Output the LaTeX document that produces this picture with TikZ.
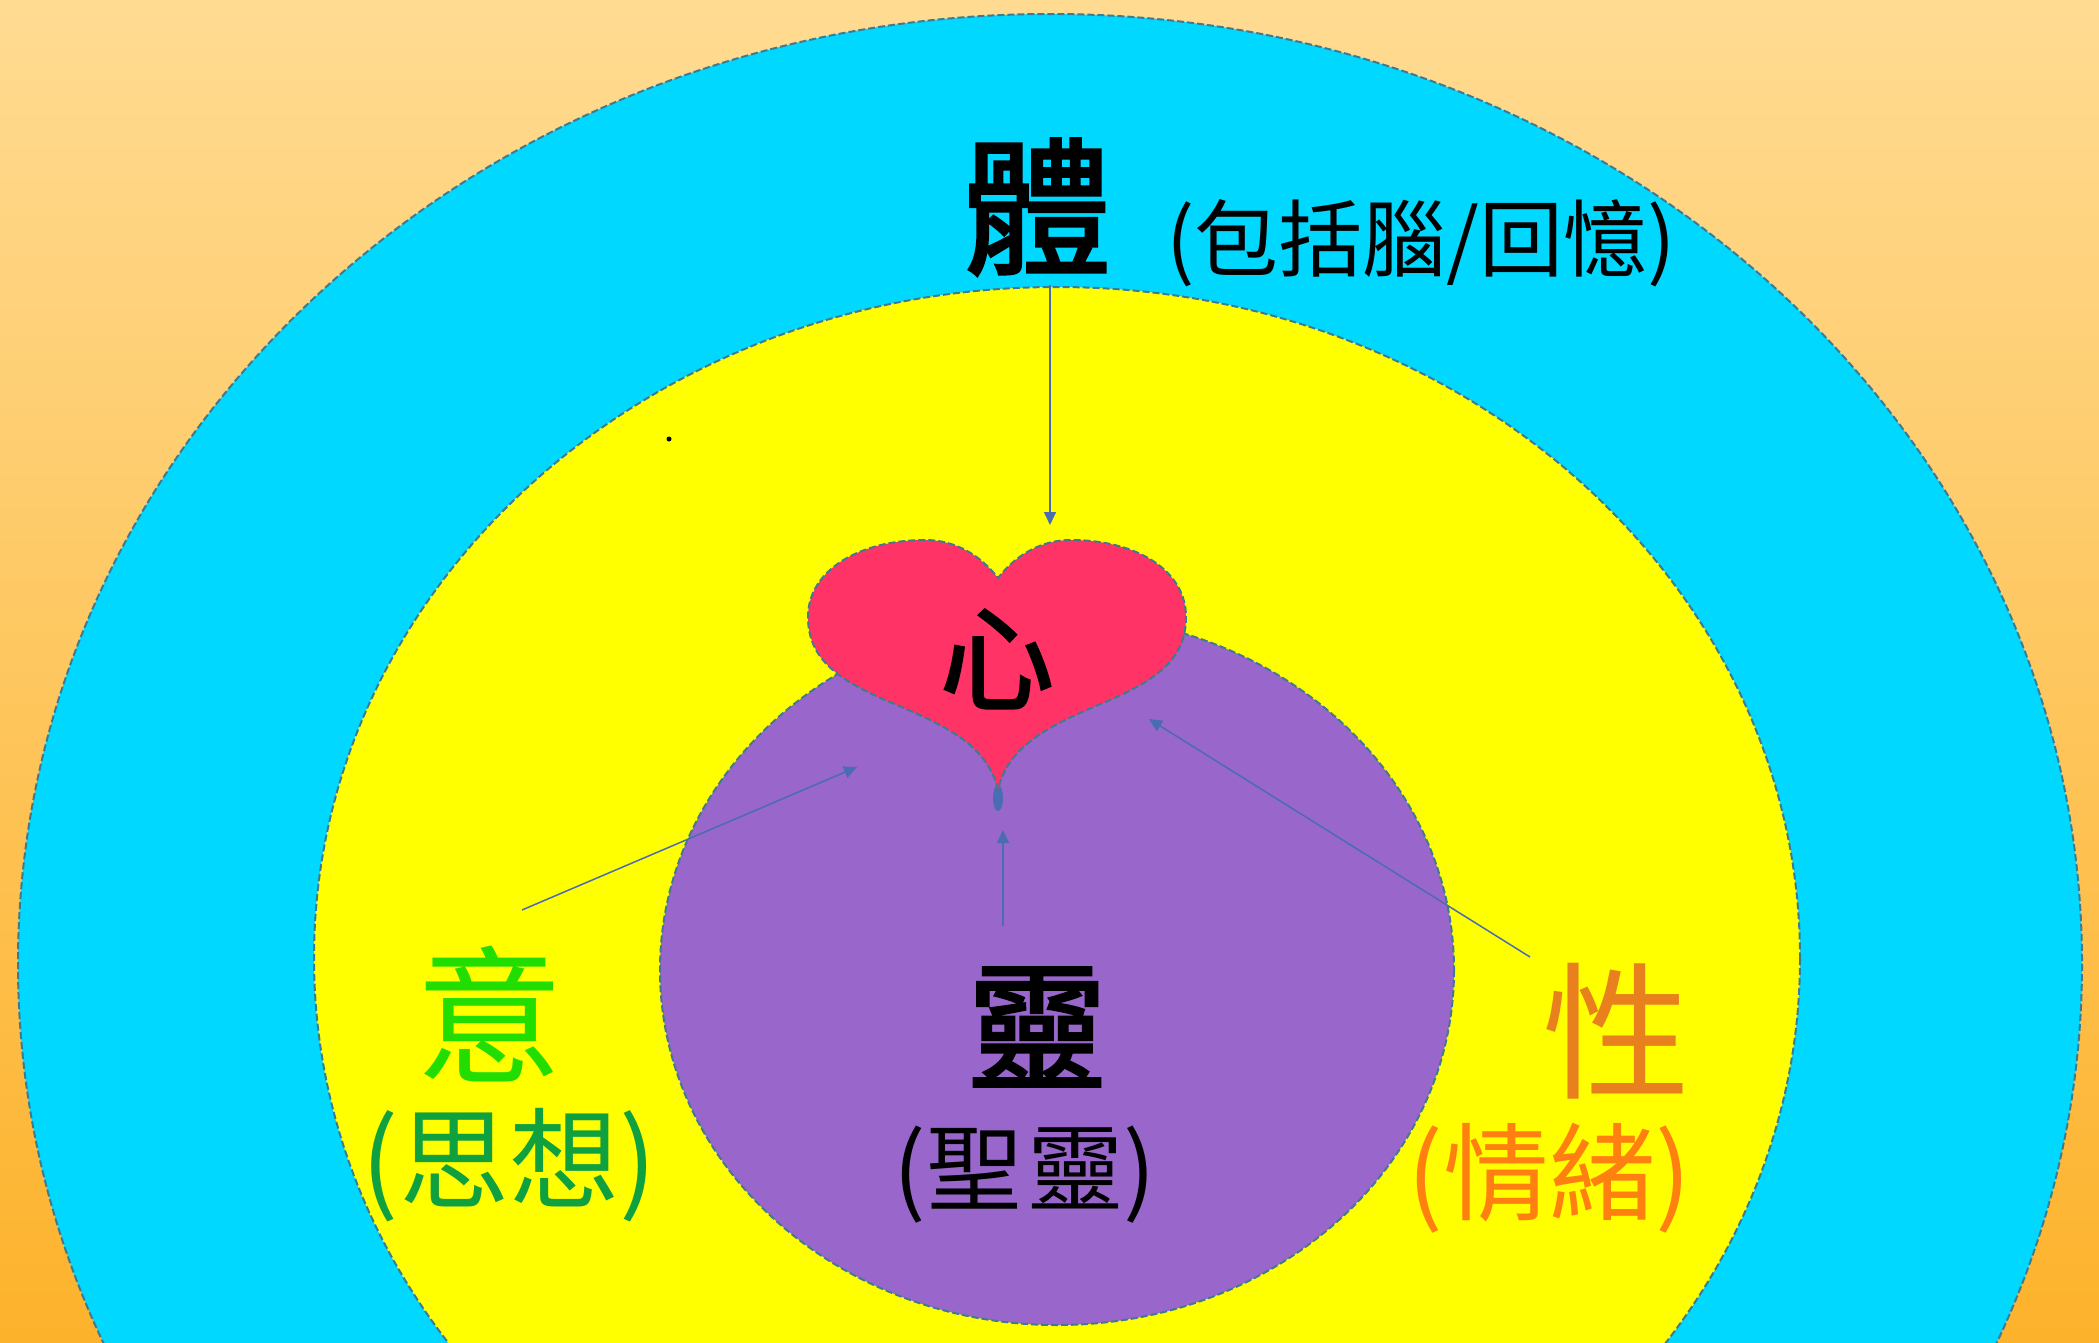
\documentclass[tikz,border=0pt]{standalone}
\usepackage{fontspec}
\usetikzlibrary{arrows.meta}
\newfontfamily\cjk{Noto Sans CJK TC}
\newfontfamily\cjkheavy[FakeBold=2.2]{Noto Sans CJK TC}
\definecolor{bgtop}{HTML}{FFDB92}
\definecolor{bgbot}{HTML}{FDB22B}
\definecolor{ringblue}{HTML}{00D8FF}
\definecolor{ringyellow}{HTML}{FFFF00}
\definecolor{ringpurple}{HTML}{9966CC}
\definecolor{heartred}{HTML}{FF3366}
\definecolor{edgecol}{HTML}{3F7A90}
\definecolor{arrowcol}{HTML}{4A6CB0}
\definecolor{yigreen}{HTML}{22DD00}
\definecolor{sigreen}{HTML}{0FA040}
\definecolor{xingor}{HTML}{E8801E}
\definecolor{qingor}{HTML}{FF8010}
\newcommand{\fs}[1]{\fontsize{#1}{#1}\selectfont}
\tikzset{
  x=1pt,y=-1pt,
  ring/.style={draw=edgecol,line width=2pt,dash pattern=on 7pt off 3pt},
  lab/.style={inner sep=0pt,outer sep=0pt,align=center},
  conn/.style={draw=arrowcol,line width=1.5pt,-{Triangle[length=13pt,width=12pt]}}
}
\begin{document}
\begin{tikzpicture}
\useasboundingbox (0,0) rectangle (2099,1342);
\shade[top color=bgtop,bottom color=bgbot] (0,0) rectangle (2099,1342);
\begin{scope}
\clip (0,0) rectangle (2099,1342);
\draw[ring,fill=ringblue] (1050,964) ellipse [x radius=1032,y radius=950];
\draw[ring,fill=ringyellow] (1057,958) ellipse [x radius=743,y radius=671];
\draw[ring,fill=ringpurple] (1057,970) ellipse [x radius=397,y radius=355];
\end{scope}
\fill[black] (669,439) circle (2.5);
\fill[arrowcol] (998,798) ellipse [x radius=5,y radius=13];
\draw[ring,fill=heartred]
  (998,790) .. controls (988,745) and (945,725) .. (885,700)
  .. controls (840,680) and (808,660) .. (808,617)
  .. controls (808,570) and (860,540) .. (925,540)
  .. controls (955,540) and (980,555) .. (998,578)
  .. controls (1016,555) and (1041,540) .. (1071,540)
  .. controls (1136,540) and (1186,570) .. (1186,617)
  .. controls (1186,660) and (1155,680) .. (1110,700)
  .. controls (1050,725) and (1008,745) .. (998,790) -- cycle;
\node[lab,font=\cjkheavy\fs{148}] (ti) at (1037,207) {體};
\node[lab,font=\cjk\fs{84}] (tinote) at (1421,243) {(包括腦/回憶)};
\node[lab,font=\cjkheavy\fs{114}] (xin) at (997,659) {心};
\node[lab,text=yigreen,font=\cjk\fs{148}] (yi) at (489,1014) {意};
\node[lab,text=sigreen,font=\cjk\fs{110}] (sixiang) at (509,1165) {(思想)};
\node[lab,font=\cjkheavy\fs{140}] (ling) at (1037,1027) {靈};
\node[lab,font=\cjk\fs{96}] (shengling) at (1025,1175) {(聖\hspace{6pt}靈)};
\node[lab,text=xingor,font=\cjk\fs{148}] (xing) at (1616,1031) {性};
\node[lab,text=qingor,font=\cjk\fs{106}] (qingxu) at (1549,1178) {(情緒)};
\coordinate (aTi) at (1050,285);
\coordinate (aTiEnd) at (1050,525);
\coordinate (aYi) at (522,910);
\coordinate (aYiEnd) at (857,767);
\coordinate (aXing) at (1530,957);
\coordinate (aXingEnd) at (1149,719);
\coordinate (aLing) at (1003,926);
\coordinate (aLingEnd) at (1003,830);
\draw[conn] (aTi) -- (aTiEnd);
\draw[conn] (aYi) -- (aYiEnd);
\draw[conn] (aXing) -- (aXingEnd);
\draw[conn] (aLing) -- (aLingEnd);
\end{tikzpicture}
\end{document}
